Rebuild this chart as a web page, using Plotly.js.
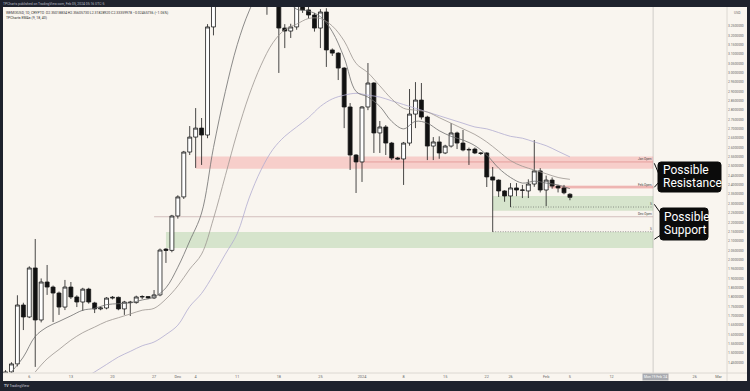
<!DOCTYPE html>
<html><head><meta charset="utf-8">
<script src="https://cdn.plot.ly/plotly-3.0.1.min.js"></script>
<style>html,body{margin:0;padding:0;background:#f9f5ef;}#chart{width:750px;height:391px;}</style>
</head><body><div id="chart"></div>
<script>
// ---------- data ----------
const candleDates = [
'2023-11-02','2023-11-03','2023-11-04','2023-11-05','2023-11-06','2023-11-07','2023-11-08','2023-11-09','2023-11-10','2023-11-11',
'2023-11-12','2023-11-13','2023-11-14','2023-11-15','2023-11-16','2023-11-17','2023-11-18','2023-11-19','2023-11-20','2023-11-21',
'2023-11-22','2023-11-23','2023-11-24','2023-11-25','2023-11-26','2023-11-27','2023-11-28','2023-11-29','2023-11-30',
'2023-12-01','2023-12-02','2023-12-03','2023-12-04','2023-12-05','2023-12-06','2023-12-07','2023-12-08','2023-12-09','2023-12-10',
'2023-12-11','2023-12-12','2023-12-13','2023-12-14','2023-12-15','2023-12-16','2023-12-17','2023-12-18','2023-12-19','2023-12-20',
'2023-12-21','2023-12-22','2023-12-23','2023-12-24','2023-12-25','2023-12-26','2023-12-27','2023-12-28','2023-12-29','2023-12-30','2023-12-31',
'2024-01-01','2024-01-02','2024-01-03','2024-01-04','2024-01-05','2024-01-06','2024-01-07','2024-01-08','2024-01-09','2024-01-10',
'2024-01-11','2024-01-12','2024-01-13','2024-01-14','2024-01-15','2024-01-16','2024-01-17','2024-01-18','2024-01-19','2024-01-20',
'2024-01-21','2024-01-22','2024-01-23','2024-01-24','2024-01-25','2024-01-26','2024-01-27','2024-01-28','2024-01-29','2024-01-30','2024-01-31',
'2024-02-01','2024-02-02','2024-02-03','2024-02-04','2024-02-05'];
const openP = [
1.360,1.400,1.443,1.758,1.694,1.956,1.678,1.881,1.854,1.822,
1.747,1.854,1.801,1.774,1.843,1.769,1.737,1.742,1.795,1.799,
1.737,1.774,1.771,1.801,1.803,1.796,1.812,2.057,2.050,
2.234,2.336,2.576,2.656,2.704,2.667,3.245,3.460,3.620,3.700,
3.600,3.680,3.620,3.550,3.500,3.450,3.420,3.400,3.239,3.223,
3.245,3.380,3.336,3.309,3.239,3.325,3.122,3.105,3.025,2.817,2.560,
2.523,2.817,2.945,2.678,2.710,2.624,2.544,2.539,2.624,2.779,
2.854,2.763,2.608,2.630,2.571,2.608,2.678,2.624,2.590,2.592,
2.571,2.571,2.443,2.426,2.368,2.341,2.384,2.373,2.368,2.405,2.475,
2.373,2.426,2.394,2.384,2.3502];
const highP = [
1.410,1.452,1.810,1.770,1.965,2.111,1.900,1.972,1.862,1.830,
1.892,1.881,1.810,1.850,1.850,1.775,1.750,1.800,1.806,1.803,
1.780,1.780,1.808,1.810,1.806,1.838,2.060,2.062,2.240,
2.345,2.582,2.715,2.811,2.758,3.260,3.620,3.750,3.800,3.850,
3.750,3.900,3.700,3.650,3.580,3.550,3.500,3.450,3.260,3.262,
3.400,3.450,3.352,3.320,3.340,3.345,3.130,3.110,3.030,2.838,2.565,
2.822,3.052,2.950,2.742,2.720,2.630,2.550,2.630,2.913,2.950,
2.945,2.770,2.656,2.660,2.615,2.731,2.685,2.694,2.600,2.600,
2.575,2.575,2.496,2.430,2.372,2.410,2.410,2.400,2.430,2.640,2.490,
2.450,2.440,2.400,2.400,2.3561];
const lowP = [
1.340,1.388,1.430,1.624,1.688,1.427,1.665,1.812,1.667,1.705,
1.731,1.790,1.747,1.726,1.765,1.715,1.730,1.735,1.788,1.730,
1.705,1.699,1.765,1.790,1.790,1.790,1.805,1.983,2.040,
2.220,2.325,2.560,2.491,2.507,2.650,3.200,3.400,3.500,3.550,
3.450,3.550,3.420,3.420,3.380,3.310,3.370,2.999,3.132,3.186,
3.230,3.320,3.290,3.220,3.132,3.031,3.090,2.961,2.704,2.480,2.357,
2.416,2.800,2.571,2.571,2.560,2.533,2.535,2.400,2.610,2.704,
2.750,2.533,2.533,2.540,2.565,2.600,2.592,2.580,2.507,2.565,
2.560,2.389,2.149,2.336,2.310,2.282,2.340,2.330,2.330,2.390,2.360,
2.287,2.380,2.360,2.350,2.3183];
const closeP = [
1.400,1.443,1.758,1.694,1.956,1.678,1.881,1.854,1.822,1.747,
1.854,1.801,1.774,1.843,1.774,1.737,1.742,1.795,1.799,1.737,
1.774,1.771,1.801,1.803,1.796,1.812,2.052,2.050,2.234,
2.336,2.576,2.656,2.704,2.667,3.245,3.460,3.620,3.700,3.600,
3.680,3.620,3.550,3.500,3.450,3.420,3.400,3.239,3.223,3.245,
3.380,3.336,3.309,3.239,3.325,3.122,3.105,3.025,2.817,2.560,2.523,
2.817,2.945,2.678,2.710,2.624,2.544,2.539,2.624,2.779,2.854,
2.763,2.608,2.630,2.571,2.608,2.678,2.624,2.587,2.588,2.571,
2.569,2.443,2.426,2.368,2.341,2.384,2.373,2.372,2.405,2.475,2.373,
2.426,2.394,2.384,2.358,2.3336];

const emaDates = [
'2023-11-03','2023-11-05','2023-11-07','2023-11-09','2023-11-11','2023-11-13','2023-11-15','2023-11-17','2023-11-19','2023-11-21','2023-11-23','2023-11-25','2023-11-27','2023-11-29',
'2023-12-01','2023-12-03','2023-12-05','2023-12-07','2023-12-09','2023-12-11','2023-12-13','2023-12-15','2023-12-17','2023-12-19','2023-12-21','2023-12-23','2023-12-25','2023-12-27','2023-12-29','2023-12-31',
'2024-01-02','2024-01-04','2024-01-06','2024-01-08','2024-01-10','2024-01-12','2024-01-14','2024-01-16','2024-01-18','2024-01-20','2024-01-22','2024-01-24','2024-01-26','2024-01-28','2024-01-30',
'2024-02-01','2024-02-03','2024-02-05'];
const ema9 = [1.40,1.48,1.59,1.64,1.67,1.70,1.73,1.74,1.76,1.765,1.77,1.785,1.80,1.85,
1.96,2.10,2.25,2.60,2.90,3.15,3.33,3.45,3.45,3.40,3.34,3.33,3.30,3.22,3.08,2.90,
2.87,2.82,2.74,2.70,2.74,2.73,2.69,2.66,2.64,2.61,2.56,2.49,2.44,2.41,2.42,
2.41,2.40,2.38];
const ema18 = [null,null,1.40,1.47,1.52,1.57,1.61,1.64,1.67,1.69,1.71,1.73,1.74,1.79,
1.86,1.95,2.03,2.22,2.45,2.68,2.88,3.04,3.16,3.23,3.26,3.29,3.29,3.25,3.17,3.05,
3.00,2.93,2.86,2.81,2.80,2.79,2.76,2.73,2.70,2.67,2.63,2.58,2.53,2.50,2.48,
2.46,2.44,2.43];
const ema40 = [null,null,null,null,null,null,1.36,1.40,1.44,1.48,1.51,1.54,1.56,1.60,
1.65,1.75,1.82,1.92,2.03,2.14,2.33,2.48,2.59,2.66,2.71,2.76,2.82,2.86,2.88,2.89,
2.88,2.87,2.85,2.83,2.81,2.79,2.77,2.75,2.73,2.71,2.70,2.68,2.66,2.65,2.63,
2.61,2.58,2.55];

const xTickDates = ['2023-11-06','2023-11-13','2023-11-20','2023-11-27','2023-12-01','2023-12-04','2023-12-11','2023-12-18','2023-12-25','2024-01-01','2024-01-08','2024-01-15','2024-01-22','2024-01-26','2024-02-01','2024-02-05','2024-02-12','2024-02-26','2024-03-01'];
const xTickText = ['6','13','20','27','Dec','4','11','18','25','2024','8','15','22','26','Feb','5','12','26','Mar'];
const priceTicks = [3.25,3.20,3.15,3.10,3.05,3.00,2.95,2.90,2.85,2.80,2.75,2.70,2.65,2.60,2.55,2.50,2.45,2.40,2.35,2.30,2.25,2.20,2.15,2.10,2.05,2.00,1.95,1.90,1.85,1.80,1.75,1.70,1.65,1.60,1.55,1.50,1.45];

// zones / levels
const resistZone = {from:'2023-12-04', lo:2.487, hi:2.552};
const febZone = {from:'2024-02-02', lo:2.380, hi:2.397};
const supportZoneHi = {from:'2024-01-23', lo:2.262, hi:2.341};
const supportZoneLo = {from:'2023-11-29', lo:2.063, hi:2.149};
const zoneEnd = '2024-02-19';
const levels = [
  {name:'Jan Open', from:'2024-01-01', price:2.523},
  {name:'Feb Open', from:'2024-02-01', price:2.389},
  {name:'Dec Open', from:'2023-11-27', price:2.230}
];
const dotted = [{from:'2024-01-26', price:2.282},{from:'2024-01-23', price:2.150}];

// ---------- layout helpers (pixel -> paper) ----------
const L=3, R=727, T=7, B=373;
const px = x => (x-L)/(R-L);
const py = y => (B-y)/(B-T);
const DARK = '#1e222d', CREAM = '#f9f5ef';

const traces = [
  {type:'scatter', mode:'lines', x:emaDates, y:ema40, line:{color:'#b1acd0', width:0.8, shape:'spline'}, hoverinfo:'skip', connectgaps:false},
  {type:'scatter', mode:'lines', x:emaDates, y:ema18, line:{color:'#9c9590', width:0.8, shape:'spline'}, hoverinfo:'skip'},
  {type:'scatter', mode:'lines', x:emaDates, y:ema9, line:{color:'#6e6e6e', width:0.8, shape:'spline'}, hoverinfo:'skip'},
  {type:'candlestick', x:candleDates, open:openP, high:highP, low:lowP, close:closeP,
   increasing:{line:{color:'#1a1a1a', width:0.8}, fillcolor:'#ffffff'},
   decreasing:{line:{color:'#1a1a1a', width:0.8}, fillcolor:'#111111'},
   whiskerwidth:0, hoverinfo:'skip'}
];

const shapes = [];
function zone(z, color){
  shapes.push({type:'rect', xref:'x', yref:'y', x0:z.from, x1:zoneEnd, y0:z.lo, y1:z.hi, fillcolor:color, line:{width:0}, layer:'below'});
}
zone(resistZone, 'rgba(242,90,90,0.25)');
zone(febZone, 'rgba(242,90,90,0.25)');
zone(supportZoneHi, 'rgba(90,170,80,0.22)');
zone(supportZoneLo, 'rgba(90,170,80,0.22)');
levels.forEach((lv,i)=>{
  shapes.push({type:'line', xref:'x', yref:'y', x0:lv.from, x1:zoneEnd, y0:lv.price, y1:lv.price,
    line:{color: i===2 ? 'rgba(190,160,160,0.8)' : 'rgba(215,120,120,0.7)', width:0.8}, layer:'below'});
});
dotted.forEach(d=>{
  shapes.push({type:'line', xref:'x', yref:'y', x0:d.from, x1:zoneEnd, y0:d.price, y1:d.price,
    line:{color:'#555', width:0.6, dash:'1px,1.5px'}, layer:'below'});
});
// crosshair vertical
shapes.push({type:'line', xref:'x', yref:'paper', x0:zoneEnd, x1:zoneEnd, y0:0, y1:1, line:{color:'rgba(140,140,140,0.55)', width:0.7}, layer:'below'});
// axis separators
shapes.push({type:'line', xref:'paper', yref:'paper', x0:1, x1:1, y0:py(381), y1:1, line:{color:'#dcd8d2', width:1}});
shapes.push({type:'line', xref:'paper', yref:'paper', x0:0, x1:px(747), y0:0, y1:0, line:{color:'#dcd8d2', width:1}});
// dark frame
shapes.push({type:'rect', xref:'paper', yref:'paper', x0:px(-5), x1:px(755), y0:py(7), y1:py(-5), fillcolor:DARK, line:{width:0}, layer:'above'});
shapes.push({type:'rect', xref:'paper', yref:'paper', x0:px(-5), x1:px(755), y0:py(396), y1:py(381), fillcolor:DARK, line:{width:0}, layer:'above'});
shapes.push({type:'rect', xref:'paper', yref:'paper', x0:px(-5), x1:px(3), y0:py(396), y1:py(-5), fillcolor:DARK, line:{width:0}, layer:'above'});
shapes.push({type:'rect', xref:'paper', yref:'paper', x0:px(747), x1:px(755), y0:py(396), y1:py(-5), fillcolor:DARK, line:{width:0}, layer:'above'});

// callout boxes (rounded) and pointers
function roundRect(x0,y0,x1,y1,r){
  const P=(x,y)=>px(x)+','+py(y);
  return 'M'+P(x0+r,y0)+' L'+P(x1-r,y0)+' Q'+P(x1,y0)+' '+P(x1,y0+r)+' L'+P(x1,y1-r)+' Q'+P(x1,y1)+' '+P(x1-r,y1)+
         ' L'+P(x0+r,y1)+' Q'+P(x0,y1)+' '+P(x0,y1-r)+' L'+P(x0,y0+r)+' Q'+P(x0,y0)+' '+P(x0+r,y0)+' Z';
}
shapes.push({type:'path', xref:'paper', yref:'paper', path:roundRect(658,162,721,192,3), fillcolor:'#0b0b0b', line:{color:'#0b0b0b', width:1}, layer:'above'});
shapes.push({type:'path', xref:'paper', yref:'paper', path:roundRect(660,208,708,240,3), fillcolor:'#0b0b0b', line:{color:'#0b0b0b', width:1}, layer:'above'});
[[654.3,163.3,659.3,175],[659.3,181.7,654.3,187.3],[654.3,204.3,660.7,213.3],[660.7,235,654.3,239.3]].forEach(s=>{
  shapes.push({type:'line', xref:'paper', yref:'paper', x0:px(s[0]), y0:py(s[1]), x1:px(s[2]), y1:py(s[3]), line:{color:'#0b0b0b', width:1}, layer:'above'});
});

const annotations = [];
function txt(text, x, y, size, color, xa, extra){
  annotations.push(Object.assign({text:text, xref:'paper', yref:'paper', x:px(x), y:py(y), xanchor:xa||'left', yanchor:'middle',
    showarrow:false, font:{size:size, color:color, family:'Roboto, DejaVu Sans, sans-serif'}, borderpad:0}, extra||{}));
}
txt('TPCharts published on TradingView.com, Feb 05, 2024 05:16 UTC-5', 2, 3.6, 3.4, '#b8bbc4');
txt('WEMIXUSD, 1D, CRYPTO  O2.35018834 H2.35605730 L2.31828920 C2.33359978 −0.02465736 (−1.06%)', 5, 12.8, 3.5, '#333333');
txt('TPCharts EMAs (9, 18, 40)', 5, 17.6, 3.5, '#333333');
txt('USD', 733, 13, 3.4, '#666666');
txt('<b>TV</b> TradingView', 3, 385.8, 3.6, '#c9ccd4');
levels.forEach((lv,i)=>{
  const yy = [159.3,185.2,214][i];
  txt(lv.name, 653, yy, 3.2, '#444444', 'right');
});
txt('S', 653, 203.6, 3.2, '#444444', 'right');
txt('S', 653, 228.6, 3.2, '#444444', 'right');
const calloutFont = {size:12, color:'#ffffff', family:'Roboto, Noto Sans, sans-serif'};
txt('Possible', 661.5, 169.6, 12, '#ffffff', 'left', {font:calloutFont});
txt('Resistance', 661.5, 182.6, 12, '#ffffff', 'left', {font:calloutFont});
txt('Possible', 662.5, 216.6, 12, '#ffffff', 'left', {font:calloutFont});
txt('Support', 662.5, 229.8, 12, '#ffffff', 'left', {font:calloutFont});
txt('Mon 19 Feb \'24', 655, 376.5, 3.4, '#ffffff', 'center', {bgcolor:'#a9abb0', borderpad:1});

const layout = {
  width:750, height:391,
  margin:{l:L, r:750-R, t:T, b:391-B, pad:0, autoexpand:false},
  paper_bgcolor:CREAM, plot_bgcolor:CREAM,
  showlegend:false,
  boxgap:0.05, boxgroupgap:0.3,
  xaxis:{type:'date', range:['2023-11-01 13:45:00','2024-03-02 10:30:00'], showgrid:false, zeroline:false,
    rangeslider:{visible:false}, tickvals:xTickDates, ticktext:xTickText, tickangle:0, ticks:'',
    tickfont:{size:3.8, color:'#666', family:'Roboto, DejaVu Sans, sans-serif'}, showline:false, fixedrange:true},
  yaxis:{range:[1.3944,3.3516], side:'right', showgrid:false, zeroline:false, ticks:'',
    tickvals:priceTicks, ticktext:priceTicks.map(v=>v.toFixed(7)),
    tickfont:{size:3.3, color:'#666', family:'Roboto, DejaVu Sans, sans-serif'}, showline:false, fixedrange:true},
  shapes:shapes, annotations:annotations
};
Plotly.newPlot('chart', traces, layout, {staticPlot:true, displayModeBar:false});
</script></body></html>
